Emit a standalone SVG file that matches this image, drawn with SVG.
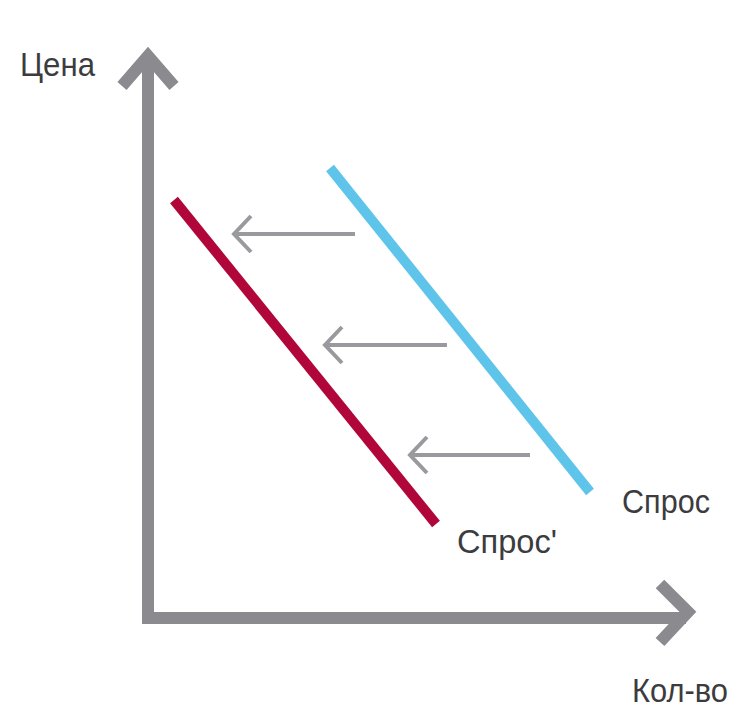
<svg xmlns="http://www.w3.org/2000/svg" width="737" height="716" viewBox="0 0 737 716">
<style>
.axis{fill:none;stroke:#8b8b8f;stroke-width:12;stroke-linecap:butt;stroke-linejoin:miter}
.shift{fill:none;stroke:#9a9a9e;stroke-width:4}
.lbl{font-family:"Liberation Sans","DejaVu Sans",sans-serif;font-size:34px;fill:#3c3c3e}
</style>
<rect width="737" height="716" fill="#ffffff"/>
<g id="axes">
<path class="axis" d="M148,56 V618 H686"/>
<path class="axis" d="M122,86 L148,56 L174,86"/>
<path class="axis" d="M660,584 L688,612 L660,642"/>
</g>
<g id="demand">
<line x1="330" y1="168" x2="590" y2="492" stroke="#5ec4ea" stroke-width="10"/>
</g>
<g id="demand2">
<line x1="174" y1="200" x2="436" y2="524" stroke="#b1063a" stroke-width="10"/>
</g>
<g id="connectors">
<path class="shift" d="M355,234 H234 M251,216 L234,234 L251,252"/>
<path class="shift" d="M447,345 H325 M342,327 L325,345 L342,363"/>
<path class="shift" d="M530,455 H410 M427,437 L410,455 L427,473"/>
</g>
<g id="labels">
<text class="lbl" x="20" y="76" textLength="75" lengthAdjust="spacingAndGlyphs">Цена</text>
<text class="lbl" x="622" y="513" textLength="88" lengthAdjust="spacingAndGlyphs">Спрос</text>
<text class="lbl" x="457" y="553" textLength="100" lengthAdjust="spacingAndGlyphs">Спрос'</text>
<text class="lbl" x="632" y="702" textLength="96" lengthAdjust="spacingAndGlyphs">Кол-во</text>
</g>
</svg>
